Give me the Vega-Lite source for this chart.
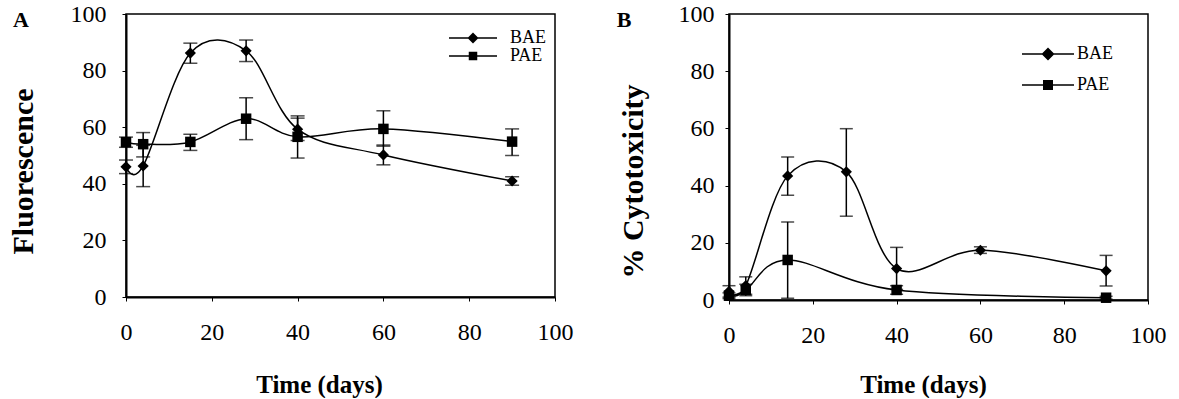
{
  "$schema": "https://vega.github.io/schema/vega-lite/v6.json",
  "background": "white",
  "padding": {"left": 7, "top": 1, "right": 0, "bottom": 0},
  "bounds": "flush",
  "spacing": 174,
  "resolve": {"scale": {"shape": "independent"}, "legend": {"shape": "independent"}},
  "data": {
    "values": [
      {"panel": "A", "series": "BAE", "day": 0, "value": 46.0, "lo": 43.6, "hi": 48.4},
      {"panel": "A", "series": "BAE", "day": 4, "value": 46.3, "lo": 39.0, "hi": 53.6},
      {"panel": "A", "series": "BAE", "day": 15, "value": 86.2, "lo": 82.6, "hi": 89.7},
      {"panel": "A", "series": "BAE", "day": 28, "value": 87.0, "lo": 83.2, "hi": 90.8},
      {"panel": "A", "series": "BAE", "day": 40, "value": 59.3, "lo": 55.3, "hi": 63.2},
      {"panel": "A", "series": "BAE", "day": 60, "value": 50.2, "lo": 46.7, "hi": 53.7},
      {"panel": "A", "series": "BAE", "day": 90, "value": 41.0, "lo": 39.5, "hi": 42.5},
      {"panel": "A", "series": "PAE", "day": 0, "value": 54.7, "lo": 52.9, "hi": 56.5},
      {"panel": "A", "series": "PAE", "day": 4, "value": 54.0, "lo": 49.5, "hi": 58.1},
      {"panel": "A", "series": "PAE", "day": 15, "value": 54.8, "lo": 51.8, "hi": 57.5},
      {"panel": "A", "series": "PAE", "day": 28, "value": 63.0, "lo": 55.6, "hi": 70.4},
      {"panel": "A", "series": "PAE", "day": 40, "value": 56.6, "lo": 49.1, "hi": 64.0},
      {"panel": "A", "series": "PAE", "day": 60, "value": 59.4, "lo": 53.3, "hi": 65.8},
      {"panel": "A", "series": "PAE", "day": 90, "value": 54.9, "lo": 50.0, "hi": 59.4},
      {"panel": "B", "series": "BAE", "day": 0, "value": 3.0, "lo": 1.0, "hi": 5.0},
      {"panel": "B", "series": "BAE", "day": 4, "value": 5.0, "lo": 2.0, "hi": 8.1},
      {"panel": "B", "series": "BAE", "day": 14, "value": 43.4, "lo": 36.6, "hi": 50.0},
      {"panel": "B", "series": "BAE", "day": 28, "value": 44.8, "lo": 29.3, "hi": 59.9},
      {"panel": "B", "series": "BAE", "day": 40, "value": 11.0, "lo": 3.7, "hi": 18.4},
      {"panel": "B", "series": "BAE", "day": 60, "value": 17.4, "lo": 16.3, "hi": 18.6},
      {"panel": "B", "series": "BAE", "day": 90, "value": 10.2, "lo": 4.9, "hi": 15.6},
      {"panel": "B", "series": "PAE", "day": 0, "value": 1.5, "lo": 0.5, "hi": 2.5},
      {"panel": "B", "series": "PAE", "day": 4, "value": 3.5, "lo": 1.5, "hi": 5.5},
      {"panel": "B", "series": "PAE", "day": 14, "value": 14.0, "lo": 0.6, "hi": 27.3},
      {"panel": "B", "series": "PAE", "day": 40, "value": 3.5, "lo": 2.0, "hi": 5.0},
      {"panel": "B", "series": "PAE", "day": 90, "value": 0.8, "lo": 0.3, "hi": 1.3}
    ]
  },
  "hconcat": [
    {
      "width": 429,
      "height": 283,
      "title": {"text": "A", "anchor": "start", "frame": "group", "orient": "top", "offset": 0, "dx": -105, "dy": 40, "align": "center", "baseline": "middle", "font": "Liberation Serif", "fontSize": 22, "fontWeight": "bold", "color": "black"},
      "transform": [{"filter": "datum.panel === 'A'"}],
      "encoding": {
        "x": {"field": "day", "type": "quantitative", "scale": {"domain": [0, 100], "nice": false},
          "axis": {"values": [0, 20, 40, 60, 80, 100], "title": "Time (days)", "titleX": 193, "titleY": 87, "titleBaseline": "middle", "titleAlign": "center", "labelPadding": 19}}
      },
      "layer": [
        {
          "mark": {"type": "line", "interpolate": "cardinal", "color": "black", "strokeWidth": 1.5, "clip": true},
          "encoding": {
            "y": {"field": "value", "type": "quantitative", "scale": {"domain": [0, 100], "nice": false},
              "axis": {"values": [0, 20, 40, 60, 80, 100], "title": "Fluorescence", "titleX": -103, "titleY": 157, "titleBaseline": "middle", "titleAlign": "center", "titleAngle": -90, "labelPadding": 16}},
            "detail": {"field": "series"}
          }
        },
        {
          "mark": {"type": "errorbar", "ticks": {"size": 14, "thickness": 1.5, "color": "black"}, "rule": {"strokeWidth": 1.5, "color": "black"}},
          "encoding": {
            "y": {"field": "lo", "type": "quantitative", "title": "Fluorescence"},
            "y2": {"field": "hi"}
          }
        },
        {
          "transform": [{"filter": "datum.series === 'BAE'"}],
          "mark": {"type": "point", "filled": true, "color": "black", "opacity": 1, "size": 125, "shape": "diamond"},
          "encoding": {"y": {"field": "value", "type": "quantitative", "title": "Fluorescence"}}
        },
        {
          "transform": [{"filter": "datum.series === 'PAE'"}],
          "mark": {"type": "point", "filled": true, "color": "black", "opacity": 1, "size": 110, "shape": "square"},
          "encoding": {"y": {"field": "value", "type": "quantitative", "title": "Fluorescence"}}
        },
        {
          "transform": [{"filter": "false"}],
          "mark": {"type": "point", "filled": true, "color": "black", "opacity": 1},
          "encoding": {
            "y": {"field": "value", "type": "quantitative", "title": "Fluorescence"},
            "shape": {"field": "series", "type": "nominal",
              "scale": {"domain": ["BAE", "PAE"], "range": [
                "M-4.8,-0.15H-0.95L0,-1.1L0.95,-0.15H4.8V0.15H0.95L0,1.1L-0.95,0.15H-4.8Z",
                "M-4.8,-0.15H-0.85V-0.85H0.85V-0.15H4.8V0.15H0.85V0.85H-0.85V0.15H-4.8Z"
              ]},
              "legend": {"orient": "none", "legendX": 338, "legendY": 15, "title": null, "padding": 0, "symbolSize": 100, "labelOffset": 28, "rowPadding": -4,
                "symbolFillColor": "black", "symbolStrokeColor": "black", "symbolOpacity": 1}}
          }
        }
      ]
    },
    {
      "width": 419,
      "height": 286,
      "title": {"text": "B", "anchor": "start", "frame": "group", "orient": "top", "offset": 0, "dx": -105, "dy": 40, "align": "center", "baseline": "middle", "font": "Liberation Serif", "fontSize": 22, "fontWeight": "bold", "color": "black"},
      "transform": [{"filter": "datum.panel === 'B'"}],
      "encoding": {
        "x": {"field": "day", "type": "quantitative", "scale": {"domain": [0, 100], "nice": false},
          "axis": {"values": [0, 20, 40, 60, 80, 100], "title": "Time (days)", "titleX": 194, "titleY": 84, "titleBaseline": "middle", "titleAlign": "center", "labelPadding": 19}}
      },
      "layer": [
        {
          "mark": {"type": "line", "interpolate": "cardinal", "color": "black", "strokeWidth": 1.5, "clip": true},
          "encoding": {
            "y": {"field": "value", "type": "quantitative", "scale": {"domain": [0, 100], "nice": false},
              "axis": {"values": [0, 20, 40, 60, 80, 100], "title": "% Cytotoxicity", "titleX": -96, "titleY": 167, "titleBaseline": "middle", "titleAlign": "center", "titleAngle": -90, "labelPadding": 11}},
            "detail": {"field": "series"}
          }
        },
        {
          "mark": {"type": "errorbar", "ticks": {"size": 13, "thickness": 1.5, "color": "black"}, "rule": {"strokeWidth": 1.5, "color": "black"}},
          "encoding": {
            "y": {"field": "lo", "type": "quantitative", "title": "% Cytotoxicity"},
            "y2": {"field": "hi"}
          }
        },
        {
          "transform": [{"filter": "datum.series === 'BAE'"}],
          "mark": {"type": "point", "filled": true, "color": "black", "opacity": 1, "size": 125, "shape": "diamond"},
          "encoding": {"y": {"field": "value", "type": "quantitative", "title": "% Cytotoxicity"}}
        },
        {
          "transform": [{"filter": "datum.series === 'PAE'"}],
          "mark": {"type": "point", "filled": true, "color": "black", "opacity": 1, "size": 110, "shape": "square"},
          "encoding": {"y": {"field": "value", "type": "quantitative", "title": "% Cytotoxicity"}}
        },
        {
          "transform": [{"filter": "false"}],
          "mark": {"type": "point", "filled": true, "color": "black", "opacity": 1},
          "encoding": {
            "y": {"field": "value", "type": "quantitative", "title": "% Cytotoxicity"},
            "shape": {"field": "series", "type": "nominal",
              "scale": {"domain": ["BAE", "PAE"], "range": [
                "M-5.2,-0.15H-1.15L0,-1.3L1.15,-0.15H5.2V0.15H1.15L0,1.3L-1.15,0.15H-5.2Z",
                "M-5.2,-0.15H-1V-1H1V-0.15H5.2V0.15H1V1H-1V0.15H-5.2Z"
              ]},
              "legend": {"orient": "none", "legendX": 310, "legendY": 31, "title": null, "padding": 0, "symbolSize": 100, "labelOffset": 20, "rowPadding": 12,
                "symbolFillColor": "black", "symbolStrokeColor": "black", "symbolOpacity": 1}}
          }
        }
      ]
    }
  ],
  "config": {
    "view": {"stroke": "black", "strokeWidth": 1.5},
    "axis": {
      "grid": false,
      "domainColor": "black",
      "domainWidth": 2,
      "tickColor": "black",
      "tickSize": 4,
      "tickWidth": 1,
      "labelFont": "Liberation Serif",
      "labelFontSize": 24,
      "labelColor": "black",
      "labelFlush": false,
      "labelOverlap": false,
      "titleFont": "Liberation Serif",
      "titleFontWeight": "bold",
      "titleColor": "black"
    },
    "axisX": {"titleFontSize": 25},
    "axisY": {"titleFontSize": 30},
    "legend": {
      "labelFont": "Liberation Serif",
      "labelFontSize": 18,
      "labelColor": "black"
    }
  }
}
